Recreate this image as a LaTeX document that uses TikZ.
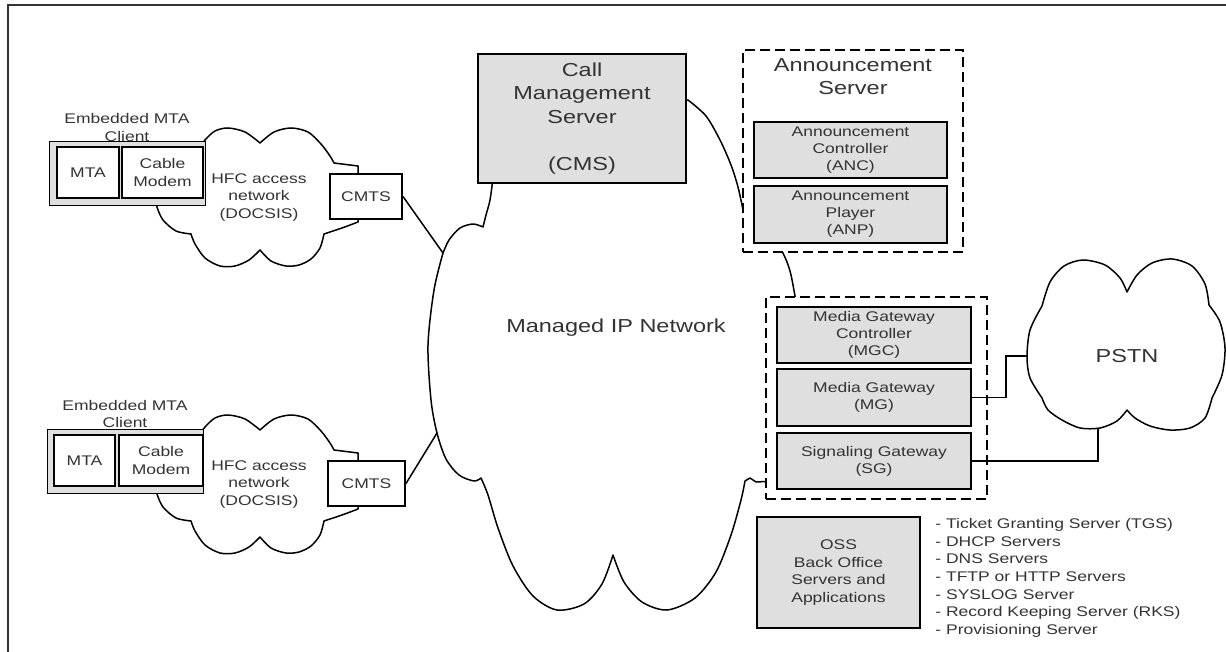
\documentclass[tikz,border=0pt]{standalone}
\usepackage{fontspec}
\setmainfont{Liberation Sans}[FakeStretch=1.25]
\definecolor{txt}{gray}{0.2}
\definecolor{boxgray}{gray}{0.875}
\newcommand\fbig{\fontsize{9.4}{11.75}\selectfont}
\newcommand\fmid{\fontsize{7}{8.75}\selectfont}
\newcommand\fsmall{\fontsize{7}{8.5}\selectfont}
\newcommand\flist{\fontsize{7}{8.83}\selectfont}
\tikzset{
  cloudline/.style={line width=0.75pt, line join=round},
  wire/.style={line width=0.75pt},
  graybox/.style={draw, line width=1pt, fill=boxgray, text=txt, align=center, inner sep=0pt},
  whitebox/.style={draw, line width=1pt, fill=white, text=txt, align=center, inner sep=0pt},
  groupbox/.style={draw, line width=0.75pt, dash pattern=on 5pt off 2.5pt, fill=white, inner sep=0pt},
  label/.style={text=txt, align=center, inner sep=0pt}
}
% one HFC access cloud, drawn around the upper CMTS position
\newcommand\hfccloud{%
  \draw[cloudline]
    plot[smooth] coordinates {(198,150) (205,140) (215,131) (228,128) (245,132) (260,143)}
    -- plot[smooth] coordinates {(260,143) (274,132) (291,128) (308,132) (321,144) (330,156) (334,163)}
    -- (358,166) -- (358,222)
    -- plot[smooth] coordinates {(358,222) (342,228) (324,234)}
    -- plot[smooth] coordinates {(324,234) (320,248) (311,259) (299,265) (286,266) (271,261) (260,250)}
    -- plot[smooth] coordinates {(260,250) (249,260) (235,266) (220,266) (205,258) (195,244) (191,234)}
    -- plot[smooth] coordinates {(191,234) (176,231) (163,220) (157,207) (156,198)};}
\begin{document}
\begin{tikzpicture}[x=0.5pt,y=-0.5pt]
\useasboundingbox (0,0) rectangle (1226,652);
\clip (0,0) rectangle (1226,652);

% outer frame
\draw[line width=1pt, black!80] (8,700) -- (8,5) -- (1240,5);

% managed IP network cloud (partly hidden behind the server boxes)
\draw[cloudline]
  plot[smooth] coordinates {(493,178) (490,200) (486,215) (483,227)}
  -- plot[smooth] coordinates {(483,227) (473,224) (460,228) (449,240) (443,253)}
  -- plot[smooth] coordinates {(443,253) (434,290) (428,345) (431,400) (437,433) (446,459) (459,475) (474,481) (481,478)}
  -- plot[smooth] coordinates {(481,478) (488,495) (498,528) (513,566) (533,596) (557,610) (584,604) (602,584) (613,555)}
  -- plot[smooth] coordinates {(613,555) (624,582) (642,602) (667,610) (695,598) (716,572) (731,535) (741,500) (745,481)}
  -- (750,478) -- (756,482) -- (775,481) -- (790,460) -- (795,300)
  -- plot[smooth] coordinates {(795,296) (791,275) (787,262) (781,249)}
  -- (760,230) -- (745,215)
  -- plot[smooth] coordinates {(743,210) (738,187) (731,165) (720,140) (706,116) (688,100)}
  -- (600,130) -- (493,178);

% HFC access clouds
\hfccloud
\begin{scope}[shift={(0,287)}]
  \hfccloud
\end{scope}

% PSTN cloud
\draw[cloudline]
  plot[smooth] coordinates {(1042,398) (1030,378) (1027,357) (1030,330) (1042,306)}
  -- plot[smooth] coordinates {(1042,306) (1050,282) (1064,266) (1083,260) (1105,265) (1120,278) (1127,292)}
  -- plot[smooth] coordinates {(1127,292) (1137,275) (1152,263) (1172,259) (1192,266) (1205,284) (1209,305)}
  -- plot[smooth] coordinates {(1209,305) (1220,322) (1225,348) (1222,375) (1212,398)}
  -- plot[smooth] coordinates {(1212,398) (1205,418) (1190,428) (1170,430) (1150,426) (1135,418) (1127,410)}
  -- plot[smooth] coordinates {(1127,410) (1117,421) (1100,428) (1080,428) (1062,420) (1048,410) (1042,398)}
  -- cycle;

% embedded MTA clients
\node[draw, line width=0.5pt, fill=boxgray, minimum width=78pt, minimum height=32pt, inner sep=0pt] (emtaA) at (127,174) {};
\node[whitebox, minimum width=31pt, minimum height=25.5pt, font=\fmid] (mtaA) at (88,172.5) {MTA};
\node[whitebox, minimum width=40.5pt, minimum height=25.5pt, font=\fmid] (cmA) at (162.5,172.5) {Cable\\Modem};
\node[label, font=\fmid] (emtaAlbl) at (127,127.5) {Embedded MTA\\Client};

\node[draw, line width=0.5pt, fill=boxgray, minimum width=78pt, minimum height=32pt, inner sep=0pt] (emtaB) at (125,461) {};
\node[whitebox, minimum width=30.5pt, minimum height=25.5pt, font=\fmid] (mtaB) at (84.5,460.5) {MTA};
\node[whitebox, minimum width=42pt, minimum height=25.5pt, font=\fmid] (cmB) at (161,460.5) {Cable\\Modem};
\node[label, font=\fmid] (emtaBlbl) at (125,414) {Embedded MTA\\Client};

% HFC labels
\node[label, font=\fmid] (hfcA) at (259,197.5) {HFC access\\network\\(DOCSIS)};
\node[label, font=\fmid] (hfcB) at (259,484.5) {HFC access\\network\\(DOCSIS)};

% CMTS boxes
\node[whitebox, minimum width=36pt, minimum height=22.5pt, font=\fmid] (cmtsA) at (366,196.5) {CMTS};
\node[whitebox, minimum width=38.5pt, minimum height=22.5pt, font=\fmid] (cmtsB) at (366.5,483.5) {CMTS};

% call management server
\node[graybox, line width=0.9pt, minimum width=104pt, minimum height=64.5pt, font=\fbig] (cms) at (582,118.5)
  {Call\\Management\\Server\\[11.75pt](CMS)};

% announcement server group
\node[groupbox, minimum width=110pt, minimum height=101pt] (anngrp) at (853,151) {};
\node[label, font=\fbig] (anntitle) at (853,76.5) {Announcement\\Server};
\node[graybox, minimum width=96.5pt, minimum height=28pt, font=\fsmall] (anc) at (850.5,150) {Announcement\\Controller\\(ANC)};
\node[graybox, minimum width=96.5pt, minimum height=28.5pt, font=\fsmall] (anp) at (850.5,214.5) {Announcement\\Player\\(ANP)};

% media gateway group
\node[groupbox, minimum width=110.5pt, minimum height=101pt] (mggrp) at (876.5,398) {};
\node[graybox, minimum width=97pt, minimum height=28pt, font=\fsmall] (mgc) at (874,335) {Media Gateway\\Controller\\(MGC)};
\node[graybox, minimum width=97pt, minimum height=28.5pt, font=\fsmall] (mg) at (874,397.5) {Media Gateway\\(MG)};
\node[graybox, minimum width=97pt, minimum height=28pt, font=\fsmall] (sg) at (874,461) {Signaling Gateway\\(SG)};

% OSS back office
\node[graybox, minimum width=81.5pt, minimum height=55.5pt, font=\fmid] (oss) at (838.5,572.5) {OSS\\Back Office\\Servers and\\Applications};
\node[text=txt, anchor=west, align=left, inner sep=0pt, font=\flist] (osslist) at (935,578)
  {- Ticket Granting Server (TGS)\\- DHCP Servers\\- DNS Servers\\- TFTP or HTTP Servers\\- SYSLOG Server\\- Record Keeping Server (RKS)\\- Provisioning Server};

% cloud labels
\node[label, font=\fbig] (iplbl) at (616,328) {Managed IP Network};
\node[label, font=\fbig] (pstnlbl) at (1127,356) {PSTN};

% connectors
\coordinate (ipA) at (443,253);
\coordinate (ipB) at (437,433);
\coordinate (pstnW) at (1028,356);
\coordinate (pstnS) at (1098,428);
\draw[wire] (cmtsA.east) -- (ipA);
\draw[wire] (cmtsB.east) -- (ipB);
\draw[wire] (mg.east) -- ++(34,0) |- (pstnW);
\draw[wire] (sg.east) -| (pstnS);
\end{tikzpicture}
\end{document}
